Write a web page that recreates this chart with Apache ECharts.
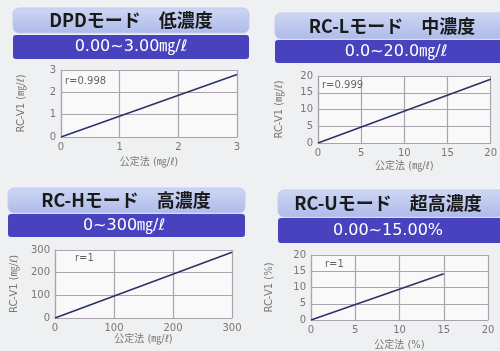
<!DOCTYPE html>
<html>
<head>
<meta charset="utf-8">
<script src="https://cdn.jsdelivr.net/npm/echarts@6/dist/echarts.min.js"></script>
<style>
html,body{margin:0;padding:0;background:#eef0f2;}
#c{width:500px;height:351px;}
</style>
</head>
<body>
<div id="c"></div>
<script>
// ---- data ----
const titles = ['DPDモード　低濃度', 'RC-Lモード　中濃度', 'RC-Hモード　高濃度', 'RC-Uモード　超高濃度'];
const ranges = ['0.00~3.00㎎/ℓ', '0.0~20.0㎎/ℓ', '0~300㎎/ℓ', '0.00~15.00%'];
const rLabels = ['r=0.998', 'r=0.999', 'r=1', 'r=1'];
const yNames = ['RC-V1 (㎎/ℓ)', 'RC-V1 (㎎/ℓ)', 'RC-V1 (㎎/ℓ)', 'RC-V1 (%)'];
const xNames = ['公定法 (㎎/ℓ)', '公定法 (㎎/ℓ)', '公定法 (㎎/ℓ)', '公定法 (%)'];
const axisMax = [3, 20, 300, 20];
const axisStep = [1, 5, 100, 5];
const dpdX = [0, 3];    const dpdY = [0, 2.8];
const rclX = [0, 20];   const rclY = [0, 19];
const rchX = [0, 300];  const rchY = [0, 290];
const rcuX = [0, 15];   const rcuY = [0, 14.2];
const seriesX = [dpdX, rclX, rchX, rcuX];
const seriesY = [dpdY, rclY, rchY, rcuY];

// ---- layout (pixels) ----
const grids = [
  {left: 61, top: 70, width: 176, height: 67},
  {left: 318, top: 76, width: 177, height: 67},
  {left: 55, top: 250, width: 177, height: 68},
  {left: 311, top: 255, width: 177, height: 67}
];
const yGap = [35, 34, 36, 37];
const xGap = [20, 18, 16, 20];
const boxes = [
  {x: 13, y: 8, w: 236, h: 25, by: 35, bh: 24, tc: 131, sc: 131},
  {x: 275, y: 13, w: 232, h: 26, by: 40, bh: 23, tc: 392, sc: 396},
  {x: 8, y: 188, w: 237, h: 25, by: 214, bh: 23, tc: 126, sc: 124},
  {x: 278, y: 190, w: 230, h: 27, by: 218, bh: 25, tc: 388, sc: 388}
];
const rPos = [[65, 76], [322, 80], [75, 253], [325, 259]];

const FONT = '"Noto Sans CJK JP", "Noto Sans", sans-serif';
const NUMFONT = '"DejaVu Sans", "Noto Sans CJK JP", sans-serif';
const gridColor = '#aaa3ae';

const chart = echarts.init(document.getElementById('c'), null, {renderer: 'canvas'});

const graphic = [];
boxes.forEach((b, i) => {
  graphic.push({
    type: 'rect', shape: {x: b.x, y: b.y, width: b.w, height: b.h, r: 6},
    style: {
      fill: new echarts.graphic.LinearGradient(0, 0, 0, 1, [
        {offset: 0, color: '#cdd6f3'}, {offset: 1, color: '#aebbea'}
      ]),
      stroke: '#c2cbee', lineWidth: 1
    }
  });
  graphic.push({
    type: 'rect', shape: {x: b.x, y: b.by, width: b.w, height: b.bh, r: 3},
    style: {fill: '#4842be'}
  });
  graphic.push({
    type: 'text', x: b.tc, y: b.y + b.h / 2,
    style: {text: titles[i], fill: '#1a1a1a', font: 'bold 18px ' + FONT, align: 'center', verticalAlign: 'middle'}
  });
  graphic.push({
    type: 'text', x: b.sc, y: b.by + b.bh / 2,
    style: {text: ranges[i], fill: '#ffffff', font: '16px ' + NUMFONT, align: 'center', verticalAlign: 'middle'}
  });
  graphic.push({
    type: 'text', x: rPos[i][0], y: rPos[i][1],
    style: {text: rLabels[i], fill: '#666', font: '10px ' + NUMFONT},
    z: 10
  });
});

const xAxis = [], yAxis = [], series = [], gridOpt = [];
for (let i = 0; i < 4; i++) {
  gridOpt.push(Object.assign({show: true, backgroundColor: '#f9f9fa', borderWidth: 0}, grids[i]));
  const common = {
    type: 'value', gridIndex: i, min: 0, max: axisMax[i], interval: axisStep[i],
    axisLine: {show: true, lineStyle: {color: gridColor, width: 1.2}},
    axisTick: {show: false},
    splitLine: {show: true, lineStyle: {color: gridColor, width: 1.2}},
    axisLabel: {color: '#777', fontSize: 10, fontFamily: NUMFONT, margin: 5},
    nameLocation: 'middle',
    nameTextStyle: {color: '#777', fontSize: 10, fontFamily: NUMFONT}
  };
  xAxis.push(Object.assign({}, common, {name: xNames[i], nameGap: xGap[i]}));
  yAxis.push(Object.assign({}, common, {name: yNames[i], nameGap: yGap[i], nameRotate: 90}));
  series.push({
    type: 'line', xAxisIndex: i, yAxisIndex: i,
    data: seriesX[i].map((x, k) => [x, seriesY[i][k]]),
    symbol: 'none', lineStyle: {color: '#2c3262', width: 1.6},
    animation: false
  });
}

chart.setOption({
  backgroundColor: '#eef0f2',
  animation: false,
  grid: gridOpt,
  xAxis: xAxis,
  yAxis: yAxis,
  series: series,
  graphic: graphic
});
</script>
</body>
</html>
